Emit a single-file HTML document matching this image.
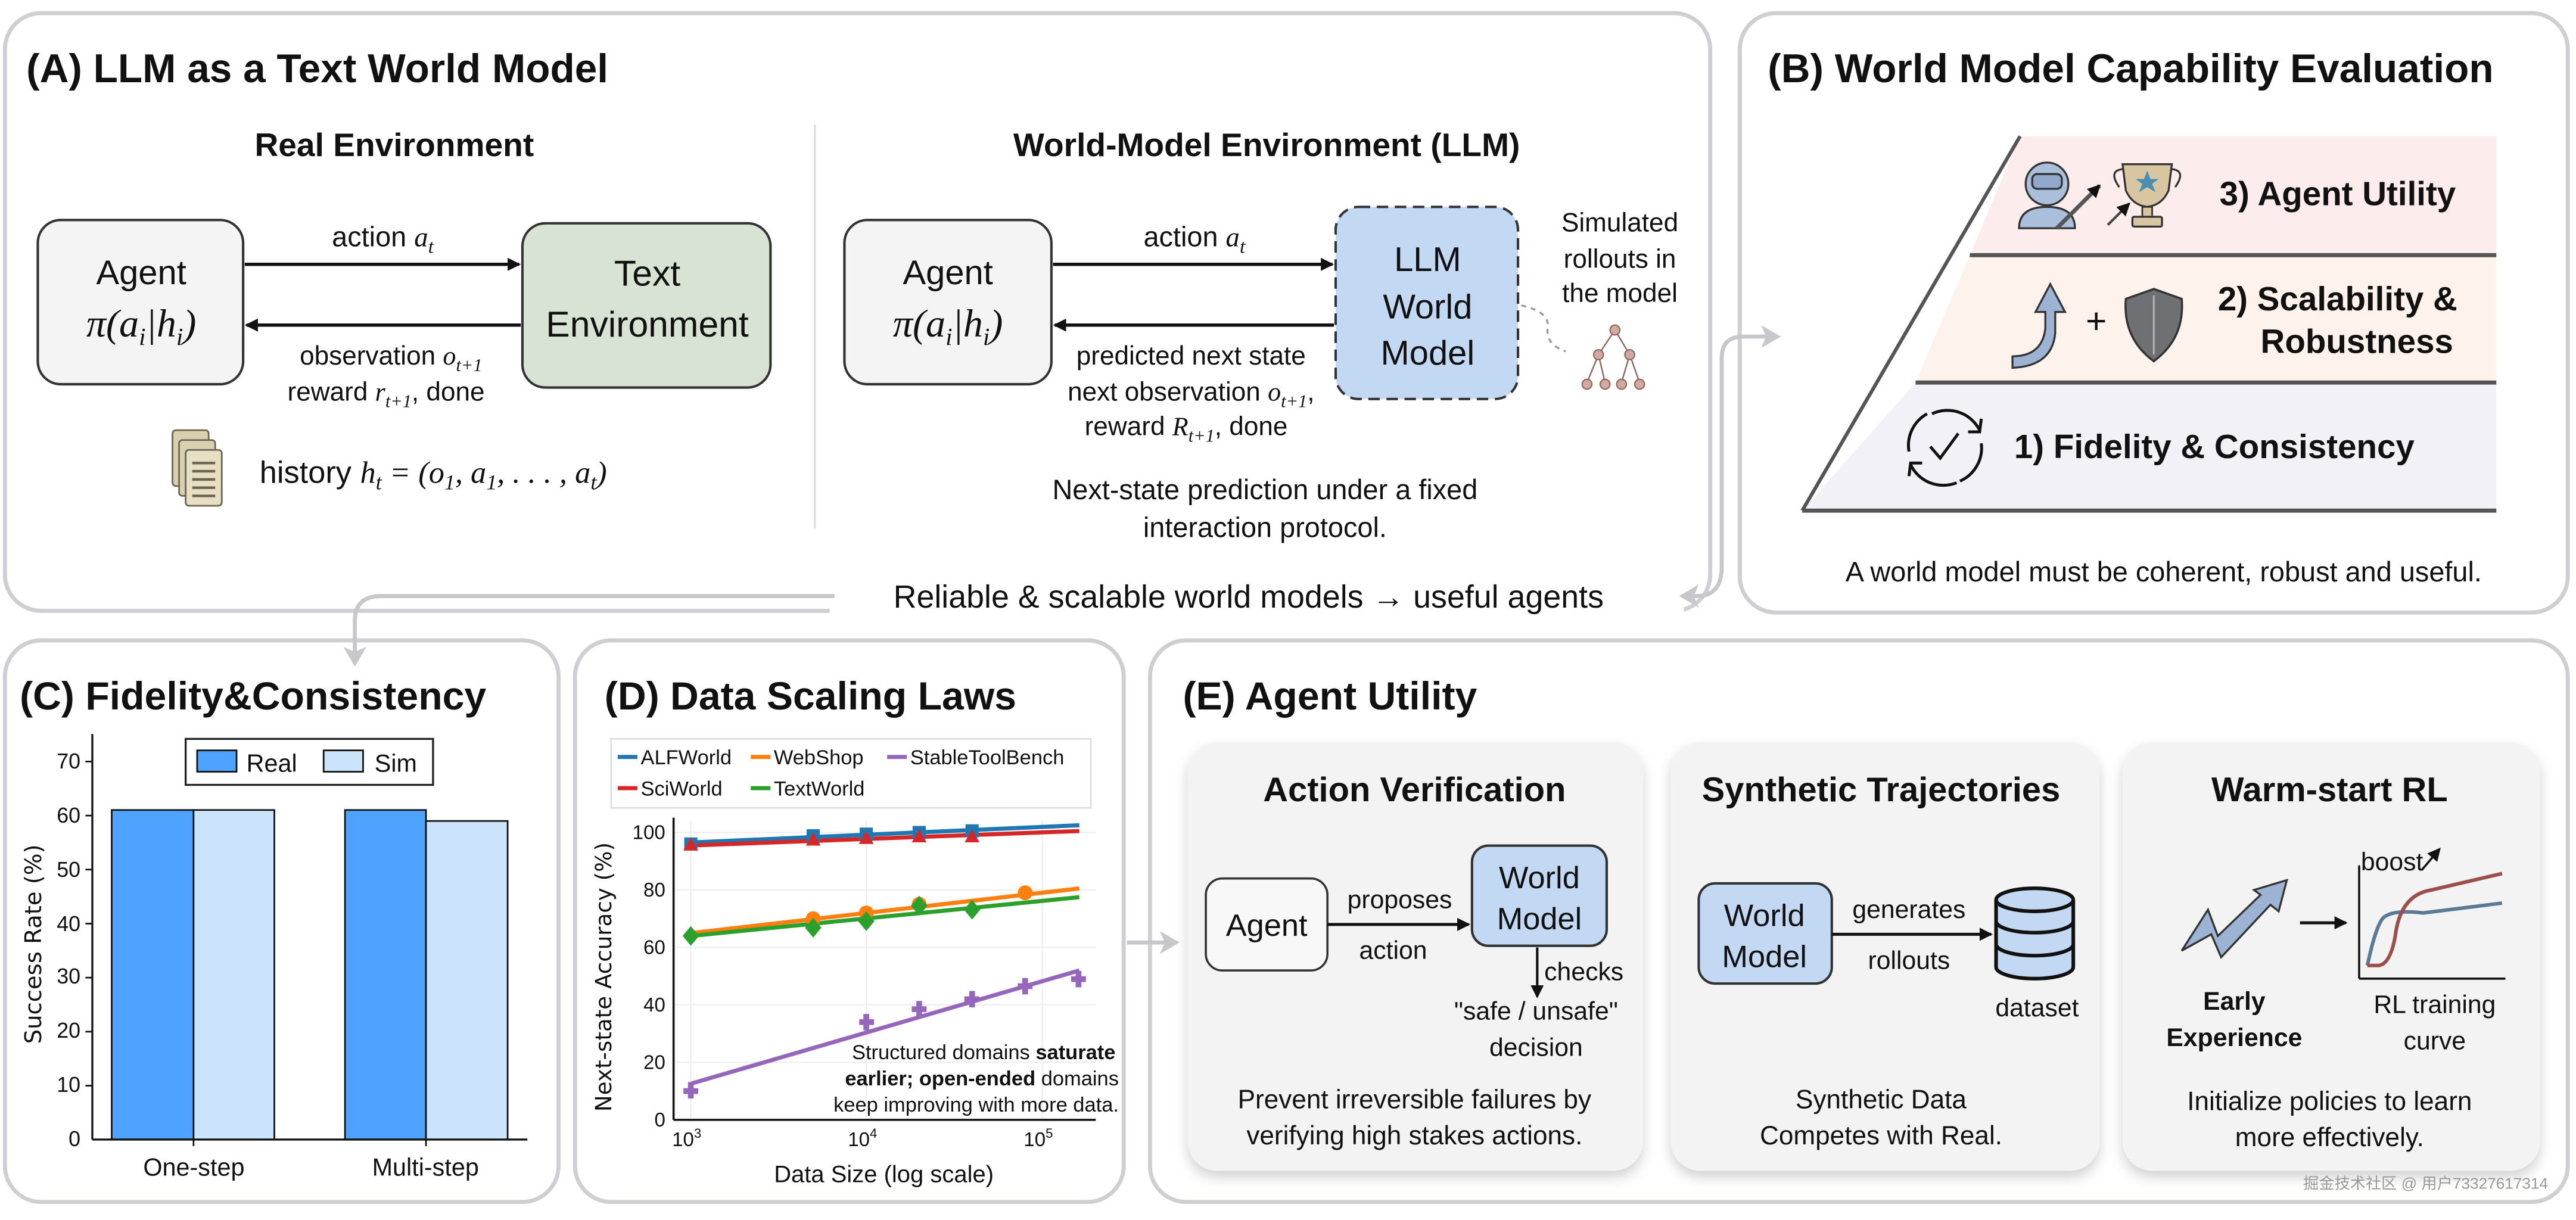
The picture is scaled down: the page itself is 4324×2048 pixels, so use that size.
<!DOCTYPE html>
<html><head><meta charset="utf-8">
<style>
html,body{margin:0;padding:0;background:#fff;}
svg{display:block;}
text{font-family:"Liberation Sans","Noto Sans CJK SC",sans-serif;fill:#111;}
.b{font-weight:bold;}
.m{font-family:"Liberation Serif",serif;font-style:italic;}
.dj{font-family:"DejaVu Sans",sans-serif;}
</style></head>
<body>
<svg width="4324" height="2048" viewBox="0 0 1568 743" preserveAspectRatio="none" xmlns="http://www.w3.org/2000/svg">
<defs>
<marker id="ah" markerWidth="8" markerHeight="8" refX="7" refY="4" orient="auto" markerUnits="userSpaceOnUse"><path d="M0,0 L8,4 L0,8 z" fill="#111"/></marker>
<marker id="gh" markerWidth="12" markerHeight="14" refX="10" refY="7" orient="auto" markerUnits="userSpaceOnUse"><path d="M0,0 L12,7 L0,14 L3,7 z" fill="#c8c8cc"/></marker>
<filter id="sh" x="-10%" y="-10%" width="120%" height="125%"><feDropShadow dx="0" dy="4" stdDeviation="4" flood-color="#000" flood-opacity="0.18"/></filter>
</defs>
<rect width="1568" height="743" fill="#fff"/>

<!-- Panels -->
<rect x="3" y="8" width="1038" height="364" rx="22" fill="#fff" stroke="#cfcfd3" stroke-width="2.5"/>
<rect x="1059" y="8" width="504" height="365" rx="22" fill="#fff" stroke="#cfcfd3" stroke-width="2.5"/>
<rect x="3" y="390" width="337" height="342" rx="22" fill="#fff" stroke="#cfcfd3" stroke-width="2.5"/>
<rect x="350" y="390" width="334" height="342" rx="22" fill="#fff" stroke="#cfcfd3" stroke-width="2.5"/>
<rect x="700" y="390" width="863" height="342" rx="22" fill="#fff" stroke="#cfcfd3" stroke-width="2.5"/>

<!-- gray connectors -->
<rect x="505" y="350" width="520" height="24" fill="#fff"/>
<path d="M508,363 L232,363 Q216,363 216,378 L216,404" fill="none" stroke="#c8c8cc" stroke-width="2.5" marker-end="url(#gh)"/>
<path d="M1048,345 Q1048,363 1033,363 L1024,363" fill="none" stroke="#c8c8cc" stroke-width="2.5" marker-end="url(#gh)"/>
<path d="M1048,345 L1048,218 Q1048,205 1061,205 L1082,205" fill="none" stroke="#c8c8cc" stroke-width="2.5" marker-end="url(#gh)"/>
<path d="M686,574 L716,574" fill="none" stroke="#c8c8cc" stroke-width="2.5" marker-end="url(#gh)"/>
<text x="760" y="370" font-size="19.5" text-anchor="middle">Reliable &amp; scalable world models → useful agents</text>

<!-- Panel A -->
<text x="16" y="50" font-size="24.5" class="b">(A) LLM as a Text World Model</text>
<line x1="496" y1="76" x2="496" y2="322" stroke="#ddd" stroke-width="1.2"/>
<text x="240" y="95" font-size="20" class="b" text-anchor="middle">Real Environment</text>
<text x="771" y="95" font-size="20" class="b" text-anchor="middle">World-Model Environment (LLM)</text>

<rect x="23" y="134" width="125" height="100" rx="14" fill="#f4f4f4" stroke="#333" stroke-width="1.5"/>
<text x="86" y="173" font-size="21" text-anchor="middle">Agent</text>
<text x="86" y="205" font-size="24" text-anchor="middle" class="m">π(a<tspan font-size="15" dy="5">i</tspan><tspan dy="-5">|h</tspan><tspan font-size="15" dy="5">i</tspan><tspan dy="-5">)</tspan></text>
<rect x="318" y="136" width="151" height="100" rx="14" fill="#d9e3d3" stroke="#333" stroke-width="1.5"/>
<text x="394" y="174" font-size="22" text-anchor="middle">Text</text>
<text x="394" y="205" font-size="22" text-anchor="middle">Environment</text>
<line x1="149" y1="161" x2="316" y2="161" stroke="#111" stroke-width="2" marker-end="url(#ah)"/>
<line x1="317" y1="198" x2="150" y2="198" stroke="#111" stroke-width="2" marker-end="url(#ah)"/>
<text x="233" y="150" font-size="17" text-anchor="middle">action <tspan class="m">a</tspan><tspan class="m" font-size="12" dy="4">t</tspan></text>
<text x="238" y="222" font-size="16" text-anchor="middle">observation <tspan class="m">o</tspan><tspan class="m" font-size="11" dy="4">t+1</tspan></text>
<text x="235" y="244" font-size="16" text-anchor="middle">reward <tspan class="m">r</tspan><tspan class="m" font-size="11" dy="4">t+1</tspan><tspan dy="-4">, done</tspan></text>
<g stroke="#6b6450" stroke-width="1" fill="#d9d0b0">
<rect x="105" y="262" width="22" height="34" rx="2"/>
<rect x="109" y="268" width="22" height="34" rx="2"/>
<rect x="113" y="274" width="22" height="34" rx="2" fill="#e6dfc3"/>
</g>
<g stroke="#6b6450" stroke-width="1.6"><line x1="117" y1="282" x2="131" y2="282"/><line x1="117" y1="287" x2="131" y2="287"/><line x1="117" y1="292" x2="131" y2="292"/><line x1="117" y1="297" x2="131" y2="297"/><line x1="117" y1="302" x2="131" y2="302"/></g>
<text x="158" y="294" font-size="19">history <tspan class="m">h</tspan><tspan class="m" font-size="13" dy="4">t</tspan><tspan dy="-4" class="m"> = (o</tspan><tspan class="m" font-size="13" dy="4">1</tspan><tspan dy="-4" class="m">, a</tspan><tspan class="m" font-size="13" dy="4">1</tspan><tspan dy="-4" class="m">, . . . , a</tspan><tspan class="m" font-size="13" dy="4">t</tspan><tspan dy="-4" class="m">)</tspan></text>

<rect x="514" y="134" width="126" height="100" rx="14" fill="#f4f4f4" stroke="#333" stroke-width="1.5"/>
<text x="577" y="173" font-size="21" text-anchor="middle">Agent</text>
<text x="577" y="205" font-size="24" text-anchor="middle" class="m">π(a<tspan font-size="15" dy="5">i</tspan><tspan dy="-5">|h</tspan><tspan font-size="15" dy="5">i</tspan><tspan dy="-5">)</tspan></text>
<rect x="813" y="126" width="111" height="117" rx="14" fill="#c3d9f3" stroke="#333" stroke-width="1.5" stroke-dasharray="7,4"/>
<text x="869" y="165" font-size="21" text-anchor="middle">LLM</text>
<text x="869" y="194" font-size="21" text-anchor="middle">World</text>
<text x="869" y="222" font-size="21" text-anchor="middle">Model</text>
<line x1="641" y1="161" x2="811" y2="161" stroke="#111" stroke-width="2" marker-end="url(#ah)"/>
<line x1="812" y1="198" x2="642" y2="198" stroke="#111" stroke-width="2" marker-end="url(#ah)"/>
<text x="727" y="150" font-size="17" text-anchor="middle">action <tspan class="m">a</tspan><tspan class="m" font-size="12" dy="4">t</tspan></text>
<text x="725" y="222" font-size="16" text-anchor="middle">predicted next state</text>
<text x="725" y="244" font-size="16" text-anchor="middle">next observation <tspan class="m">o</tspan><tspan class="m" font-size="11" dy="4">t+1</tspan><tspan dy="-4">,</tspan></text>
<text x="722" y="265" font-size="16" text-anchor="middle">reward <tspan class="m">R</tspan><tspan class="m" font-size="11" dy="4">t+1</tspan><tspan dy="-4">, done</tspan></text>
<text x="986" y="141" font-size="16" text-anchor="middle">Simulated</text>
<text x="986" y="163" font-size="16" text-anchor="middle">rollouts in</text>
<text x="986" y="184" font-size="16" text-anchor="middle">the model</text>
<path d="M926,186 Q944,190 942,200 Q941,210 953,214" fill="none" stroke="#999" stroke-width="1.2" stroke-dasharray="3,3"/>
<g stroke="#8a6b63" stroke-width="0.9" fill="none"><path d="M983,201 L973,216 M983,201 L992,216 M973,216 L966,233 M973,216 L977,233 M992,216 L987,233 M992,216 L998,233"/></g>
<g fill="#d4a8a0" stroke="#8a6b63" stroke-width="0.8"><circle cx="983" cy="201" r="3"/><circle cx="973" cy="216" r="3"/><circle cx="992" cy="216" r="3"/><circle cx="966" cy="234" r="3"/><circle cx="977" cy="234" r="3"/><circle cx="987" cy="234" r="3"/><circle cx="998" cy="234" r="3"/></g>
<text x="770" y="304" font-size="17" text-anchor="middle">Next-state prediction under a fixed</text>
<text x="770" y="327" font-size="17" text-anchor="middle">interaction protocol.</text>

<!-- Panel B -->
<text x="1076" y="50" font-size="24.5" class="b">(B) World Model Capability Evaluation</text>
<polygon points="1229.6,83 1519.5,83 1519.5,155.4 1199,155.4" fill="#fcecec"/>
<polygon points="1199,155.4 1519.5,155.4 1519.5,233 1166,233" fill="#fdf3ec"/>
<polygon points="1166,233 1519.5,233 1519.5,311 1097,311" fill="#f1f1f7"/>
<line x1="1229.6" y1="83" x2="1097" y2="311" stroke="#555" stroke-width="2.2"/>
<line x1="1199" y1="155.4" x2="1519.5" y2="155.4" stroke="#555" stroke-width="2.5"/>
<line x1="1166" y1="233" x2="1519.5" y2="233" stroke="#555" stroke-width="2.5"/>
<line x1="1097" y1="311" x2="1519.5" y2="311" stroke="#555" stroke-width="2.5"/>
<circle cx="1246" cy="112" r="13" fill="#a9bfdc" stroke="#333" stroke-width="1.2"/>
<rect x="1237" y="106" width="18" height="9" rx="3" fill="#8fa8cc" stroke="#333" stroke-width="1.2"/>
<path d="M1229,139 Q1229,126 1246,126 Q1263,126 1263,139 Z" fill="#a9bfdc" stroke="#333" stroke-width="1.2"/>
<line x1="1252" y1="139" x2="1278" y2="113" stroke="#555" stroke-width="2.5" marker-end="url(#ah)"/>
<line x1="1283" y1="137" x2="1296" y2="124" stroke="#444" stroke-width="1.5" marker-end="url(#ah)"/>
<path d="M1292,100 L1322,100 L1320,116 Q1316,125 1307,126 Q1298,125 1294,116 Z" fill="#d8c6a3" stroke="#333" stroke-width="1.2"/>
<path d="M1292,103 Q1283,104 1290,114 M1322,103 Q1331,104 1324,114" fill="none" stroke="#333" stroke-width="1.2"/>
<rect x="1304" y="126" width="6" height="6" fill="#d8c6a3" stroke="#333" stroke-width="1"/>
<rect x="1298" y="132" width="18" height="6" rx="1" fill="#d8c6a3" stroke="#333" stroke-width="1.2"/>
<polygon points="1307,104 1309,109 1314,109 1310,112 1312,117 1307,114 1302,117 1304,112 1300,109 1305,109" fill="#4a8fb0"/>
<text x="1351" y="125" font-size="20.5" class="b">3) Agent Utility</text>
<path d="M1225,217 Q1243,217 1245,200 L1245,190 L1239,190 L1248,173 L1257,190 L1251,190 L1251,203 Q1249,223 1225,224 Z" fill="#9db3d3" stroke="#333" stroke-width="1.2"/>
<text x="1276" y="203" font-size="22" text-anchor="middle">+</text>
<path d="M1311,176 L1328,182 Q1330,206 1311,220 Q1292,206 1294,182 Z" fill="#6e7073" stroke="#333" stroke-width="1.3"/>
<path d="M1311,180 L1311,216" stroke="#bbb" stroke-width="1"/>
<text x="1350" y="189" font-size="20.5" class="b">2) Scalability &amp;</text>
<text x="1376" y="215" font-size="20.5" class="b">Robustness</text>
<!-- cycle icon -->
<path d="M1176,252 A22,22 0 0 1 1205,262" fill="none" stroke="#111" stroke-width="1.8"/>
<path d="M1206,270 A22,22 0 0 1 1193,293" fill="none" stroke="#111" stroke-width="1.8"/>
<path d="M1191,294 A22,22 0 0 1 1163,283" fill="none" stroke="#111" stroke-width="1.8"/>
<path d="M1162,275 A22,22 0 0 1 1173,252" fill="none" stroke="#111" stroke-width="1.8"/>
<path d="M1198,263 L1205,263 L1206,255" fill="none" stroke="#111" stroke-width="1.8"/>
<path d="M1170,282 L1163,282 L1162,290" fill="none" stroke="#111" stroke-width="1.8"/>
<path d="M1175,272 L1181,279 L1192,264" fill="none" stroke="#111" stroke-width="1.8"/>
<text x="1226" y="279" font-size="20.5" class="b">1) Fidelity &amp; Consistency</text>
<text x="1317" y="354" font-size="17" text-anchor="middle">A world model must be coherent, robust and useful.</text>

<!-- Panel C -->
<text x="12" y="432" font-size="24" class="b">(C) Fidelity&amp;Consistency</text>
<rect x="68" y="493.3" width="49.8" height="200.7" fill="#4da3ff" stroke="#111" stroke-width="1"/>
<rect x="117.8" y="493.3" width="49.2" height="200.7" fill="#cce4fb" stroke="#111" stroke-width="1"/>
<rect x="210" y="493.3" width="49.3" height="200.7" fill="#4da3ff" stroke="#111" stroke-width="1"/>
<rect x="259.3" y="500" width="49.7" height="194" fill="#cce4fb" stroke="#111" stroke-width="1"/>
<line x1="56.2" y1="447" x2="56.2" y2="694" stroke="#111" stroke-width="1.2"/>
<line x1="56.2" y1="694" x2="321" y2="694" stroke="#111" stroke-width="1.2"/>
<g font-size="13" text-anchor="end">
<text x="49" y="468">70</text><text x="49" y="501">60</text><text x="49" y="534">50</text><text x="49" y="567">40</text><text x="49" y="599">30</text><text x="49" y="632">20</text><text x="49" y="665">10</text><text x="49" y="698">0</text>
</g>
<g stroke="#111" stroke-width="1"><line x1="52" y1="463.8" x2="56" y2="463.8"/><line x1="52" y1="496.7" x2="56" y2="496.7"/><line x1="52" y1="529.6" x2="56" y2="529.6"/><line x1="52" y1="562.5" x2="56" y2="562.5"/><line x1="52" y1="595.4" x2="56" y2="595.4"/><line x1="52" y1="628.3" x2="56" y2="628.3"/><line x1="52" y1="661.2" x2="56" y2="661.2"/><line x1="117.8" y1="694" x2="117.8" y2="698"/><line x1="259.3" y1="694" x2="259.3" y2="698"/></g>
<text x="118" y="716" font-size="15" text-anchor="middle">One-step</text>
<text x="259" y="716" font-size="15" text-anchor="middle">Multi-step</text>
<text x="0" y="0" font-size="14" class="dj" text-anchor="middle" transform="translate(25,575) rotate(-90)">Success Rate (%)</text>
<rect x="113" y="450" width="150.6" height="28" fill="#fff" stroke="#222" stroke-width="1.2"/>
<rect x="120" y="457" width="24" height="13" fill="#4da3ff" stroke="#111" stroke-width="1"/>
<text x="150" y="470" font-size="15">Real</text>
<rect x="197" y="457" width="24" height="13" fill="#cce4fb" stroke="#111" stroke-width="1"/>
<text x="228" y="470" font-size="15">Sim</text>

<!-- Panel D -->
<text x="368" y="432" font-size="24" class="b">(D) Data Scaling Laws</text>
<rect x="372" y="450" width="292" height="42" fill="#fff" stroke="#ddd" stroke-width="1"/>
<g font-size="12.5">
<line x1="376" y1="461" x2="388" y2="461" stroke="#1f77b4" stroke-width="2.5"/><text x="390" y="465.5">ALFWorld</text>
<line x1="457" y1="461" x2="469" y2="461" stroke="#ff7f0e" stroke-width="2.5"/><text x="471" y="465.5">WebShop</text>
<line x1="540" y1="461" x2="552" y2="461" stroke="#9467bd" stroke-width="2.5"/><text x="554" y="465.5">StableToolBench</text>
<line x1="376" y1="480" x2="388" y2="480" stroke="#d62728" stroke-width="2.5"/><text x="390" y="484.5">SciWorld</text>
<line x1="457" y1="480" x2="469" y2="480" stroke="#2ca02c" stroke-width="2.5"/><text x="471" y="484.5">TextWorld</text>
</g>
<g stroke="#eee" stroke-width="0.8"><line x1="410" y1="507" x2="667" y2="507"/><line x1="410" y1="542" x2="667" y2="542"/><line x1="410" y1="577" x2="667" y2="577"/><line x1="410" y1="612" x2="667" y2="612"/><line x1="410" y1="647" x2="667" y2="647"/><line x1="420.5" y1="500" x2="420.5" y2="682"/><line x1="527.3" y1="500" x2="527.3" y2="682"/><line x1="634.5" y1="500" x2="634.5" y2="682"/></g>
<line x1="410" y1="498" x2="410" y2="682" stroke="#111" stroke-width="1.3"/>
<line x1="410" y1="682" x2="667" y2="682" stroke="#111" stroke-width="1.3"/>
<g font-size="12" text-anchor="end"><text x="405" y="511">100</text><text x="405" y="546">80</text><text x="405" y="581">60</text><text x="405" y="616">40</text><text x="405" y="651">20</text><text x="405" y="686">0</text></g>
<g font-size="12" text-anchor="middle"><text x="418" y="698">10<tspan font-size="8" dy="-5">3</tspan></text><text x="525" y="698">10<tspan font-size="8" dy="-5">4</tspan></text><text x="632" y="698">10<tspan font-size="8" dy="-5">5</tspan></text></g>
<text x="538" y="720" font-size="14.5" text-anchor="middle">Data Size (log scale)</text>
<text x="0" y="0" font-size="13.5" class="dj" text-anchor="middle" transform="translate(372,595) rotate(-90)">Next-state Accuracy (%)</text>
<line x1="420.5" y1="513.1" x2="657" y2="502.6" stroke="#1f77b4" stroke-width="2.5"/>
<line x1="420.5" y1="514.9" x2="657" y2="506.1" stroke="#d62728" stroke-width="2.5"/>
<line x1="420.5" y1="568.3" x2="657" y2="541.1" stroke="#ff7f0e" stroke-width="2.5"/>
<line x1="420.5" y1="570" x2="657" y2="546.4" stroke="#2ca02c" stroke-width="2.5"/>
<line x1="420.5" y1="660" x2="657" y2="591" stroke="#9467bd" stroke-width="2.5"/>
<g fill="#1f77b4"><rect x="416.5" y="510" width="8" height="8"/><rect x="491" y="505" width="8" height="8"/><rect x="523.3" y="504" width="8" height="8"/><rect x="555.5" y="503" width="8" height="8"/><rect x="587.7" y="502" width="8" height="8"/></g>
<g fill="#d62728"><polygon points="420.5,510 425,518 416,518"/><polygon points="495,507 499.5,515 490.5,515"/><polygon points="527.3,506 531.8,514 522.8,514"/><polygon points="559.5,505 564,513 555,513"/><polygon points="591.7,505 596.2,513 587.2,513"/></g>
<g fill="#ff7f0e"><circle cx="495" cy="559.5" r="4.5"/><circle cx="527.3" cy="556" r="4.5"/><circle cx="559.5" cy="550.7" r="4.5"/><circle cx="624" cy="543.7" r="4.5"/></g>
<g fill="#2ca02c"><polygon points="420.5,564 425.5,570 420.5,576 415.5,570"/><polygon points="495,559 500,565 495,571 490,565"/><polygon points="527.3,555 532.3,561 527.3,567 522.3,561"/><polygon points="559.5,545.6 564.5,551.6 559.5,557.6 554.5,551.6"/><polygon points="591.7,548 596.7,554 591.7,560 586.7,554"/></g>
<g stroke="#9467bd" stroke-width="3.5"><path d="M420.5,659 v10 M416,664.5 h9"/><path d="M527.3,617.5 v10 M523,622.5 h9"/><path d="M559.5,609.6 v10 M555,614.6 h9"/><path d="M591.7,603.5 v10 M587,608.5 h9"/><path d="M624,595.6 v10 M619.5,600.6 h9"/><path d="M656.5,591.3 v10 M652,596.3 h9"/></g>
<g font-size="12.5" text-anchor="end">
<text x="679" y="645">Structured domains <tspan class="b">saturate</tspan></text>
<text x="681" y="661"><tspan class="b">earlier; open-ended</tspan> domains</text>
<text x="681" y="677">keep improving with more data.</text>
</g>

<!-- Panel E -->
<text x="720" y="432" font-size="24" class="b">(E) Agent Utility</text>
<rect x="723" y="452" width="277" height="261" rx="18" fill="#f3f3f3" filter="url(#sh)"/>
<rect x="1017" y="452" width="261" height="261" rx="18" fill="#f3f3f3" filter="url(#sh)"/>
<rect x="1292" y="452" width="254" height="261" rx="18" fill="#f3f3f3" filter="url(#sh)"/>
<text x="861" y="488" font-size="21" class="b" text-anchor="middle">Action Verification</text>
<text x="1145" y="488" font-size="21" class="b" text-anchor="middle">Synthetic Trajectories</text>
<text x="1418" y="488" font-size="21" class="b" text-anchor="middle">Warm-start RL</text>

<rect x="734" y="535" width="74" height="56" rx="10" fill="#f8f8f8" stroke="#333" stroke-width="1.3"/>
<text x="771" y="570" font-size="19" text-anchor="middle">Agent</text>
<rect x="896" y="515" width="82" height="61" rx="10" fill="#c3d9f3" stroke="#333" stroke-width="1.5"/>
<text x="937" y="541" font-size="19" text-anchor="middle">World</text>
<text x="937" y="566" font-size="19" text-anchor="middle">Model</text>
<line x1="808" y1="563" x2="894" y2="563" stroke="#111" stroke-width="1.8" marker-end="url(#ah)"/>
<text x="852" y="553" font-size="15.5" text-anchor="middle">proposes</text>
<text x="848" y="584" font-size="15.5" text-anchor="middle">action</text>
<line x1="935.7" y1="577" x2="935.7" y2="607" stroke="#111" stroke-width="1.5" marker-end="url(#ah)"/>
<text x="940" y="597" font-size="15.5">checks</text>
<text x="935" y="621" font-size="15.5" text-anchor="middle">"safe / unsafe"</text>
<text x="935" y="643" font-size="15.5" text-anchor="middle">decision</text>
<text x="861" y="675" font-size="16" text-anchor="middle">Prevent irreversible failures by</text>
<text x="861" y="697" font-size="16" text-anchor="middle">verifying high stakes actions.</text>

<rect x="1034" y="538" width="81" height="61" rx="10" fill="#c3d9f3" stroke="#333" stroke-width="1.5"/>
<text x="1074" y="564" font-size="19" text-anchor="middle">World</text>
<text x="1074" y="589" font-size="19" text-anchor="middle">Model</text>
<line x1="1115" y1="569" x2="1212" y2="569" stroke="#111" stroke-width="1.8" marker-end="url(#ah)"/>
<text x="1162" y="559" font-size="15.5" text-anchor="middle">generates</text>
<text x="1162" y="590" font-size="15.5" text-anchor="middle">rollouts</text>
<g fill="#c3d9f3" stroke="#111" stroke-width="2.2">
<path d="M1215,548 L1215,589 A23.5,7 0 0 0 1262,589 L1262,548"/>
<ellipse cx="1238.5" cy="548" rx="23.5" ry="7"/>
<path d="M1215,561 A23.5,7 0 0 0 1262,561 M1215,575 A23.5,7 0 0 0 1262,575" fill="none"/>
</g>
<text x="1240" y="619" font-size="15.5" text-anchor="middle">dataset</text>
<text x="1145" y="675" font-size="16" text-anchor="middle">Synthetic Data</text>
<text x="1145" y="697" font-size="16" text-anchor="middle">Competes with Real.</text>

<path d="M1328,579 L1344,554 L1350,570 L1376,545 L1372,542 L1392,536 L1387,555 L1382,551 L1352,583 L1346,569 Z" fill="#9db3d3" stroke="#333" stroke-width="1.2"/>
<line x1="1400" y1="562" x2="1428" y2="562" stroke="#111" stroke-width="1.8" marker-end="url(#ah)"/>
<line x1="1436" y1="527" x2="1436" y2="596" stroke="#111" stroke-width="1.3"/>
<line x1="1436" y1="596" x2="1525" y2="596" stroke="#111" stroke-width="1.3"/>
<path d="M1441,588 Q1447,560 1452,558 Q1458,554 1475,556 L1523,550" fill="none" stroke="#5a7a96" stroke-width="2.2"/>
<path d="M1441,588 L1448,588 Q1455,587 1458,570 Q1461,545 1480,542 L1523,532" fill="none" stroke="#9c4f4a" stroke-width="2.2"/>
<text x="1456" y="530" font-size="15.5" text-anchor="middle">boost</text>
<line x1="1474" y1="530" x2="1485" y2="517" stroke="#111" stroke-width="1.3" marker-end="url(#ah)"/>
<text x="1360" y="615" font-size="15.5" class="b" text-anchor="middle">Early</text>
<text x="1360" y="637" font-size="15.5" class="b" text-anchor="middle">Experience</text>
<text x="1482" y="617" font-size="15.5" text-anchor="middle">RL training</text>
<text x="1482" y="639" font-size="15.5" text-anchor="middle">curve</text>
<text x="1418" y="676" font-size="16" text-anchor="middle">Initialize policies to learn</text>
<text x="1418" y="698" font-size="16" text-anchor="middle">more effectively.</text>

<text x="1551" y="724" font-size="9.5" text-anchor="end" style="fill:#999">掘金技术社区 @ 用户73327617314</text>
</svg>
</body></html>
